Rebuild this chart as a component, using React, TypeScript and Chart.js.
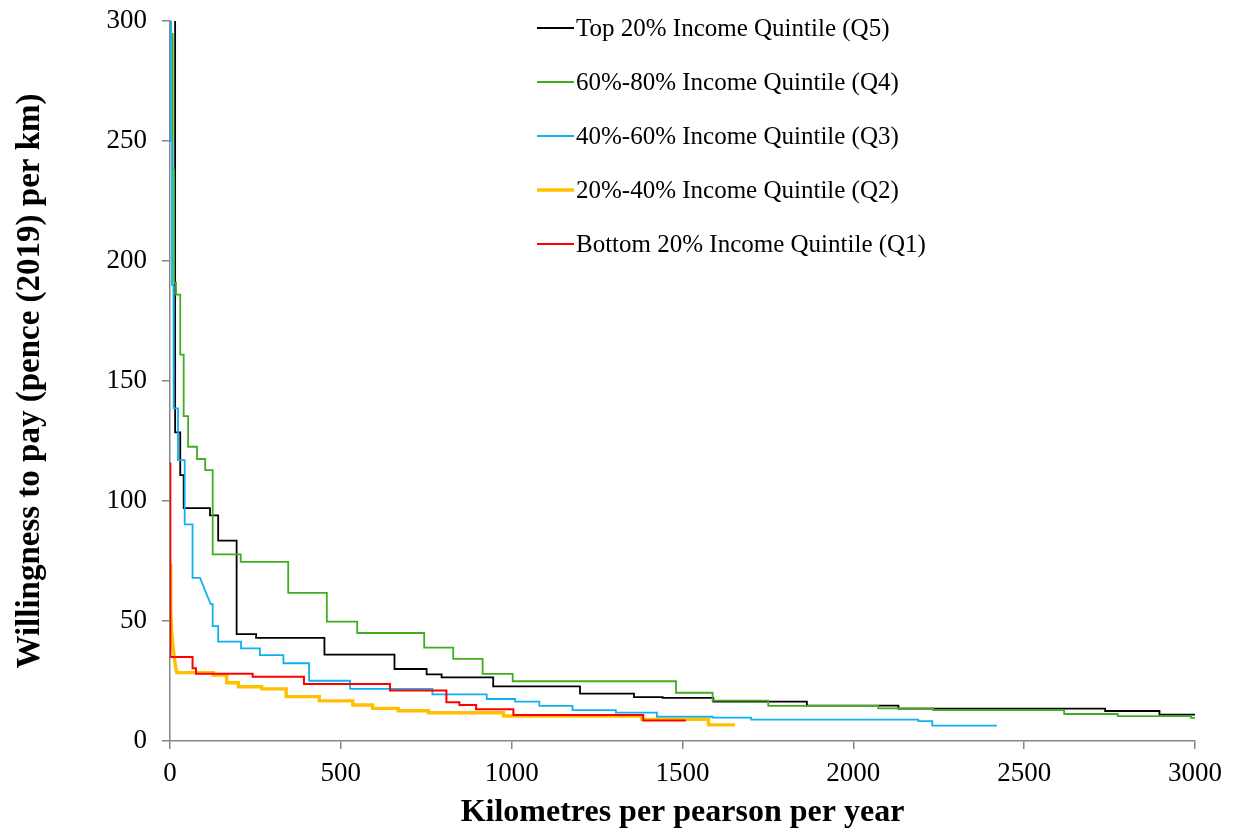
import React, { useEffect, useRef } from "react";
import { Chart, registerables } from "chart.js";

Chart.register(...registerables);

// Step-curve data: km per person per year (x) vs willingness to pay (pence 2019 / km) (y)
const q5X = [15, 15, 30, 30, 40, 40, 117, 117, 141, 141, 195, 195, 252, 252, 452, 452, 657, 657, 751, 751, 795, 795, 946, 946, 1200, 1200, 1358, 1358, 1442, 1442, 1590, 1590, 1864, 1864, 2132, 2132, 2737, 2737, 2896, 2896, 3000];
const q5Y = [300, 128.6, 128.6, 110.8, 110.8, 97, 97, 94, 94, 83.5, 83.5, 44.5, 44.5, 43, 43, 36, 36, 30, 30, 27.8, 27.8, 26.5, 26.5, 22.8, 22.8, 19.7, 19.7, 18.3, 18.3, 18, 18, 16.4, 16.4, 14.7, 14.7, 13.5, 13.5, 12.5, 12.5, 11, 11];

const q4X = [8, 8, 12, 12, 17.6, 17.6, 30, 30, 40, 40, 53, 53, 79, 79, 103, 103, 125, 125, 207, 207, 346, 346, 459, 459, 548, 548, 744, 744, 829, 829, 915, 915, 1003, 1003, 1481, 1481, 1588, 1588, 1751, 1751, 2073, 2073, 2234, 2234, 2617, 2617, 2774, 2774, 2988, 2988, 3000];
const q4Y = [295, 238, 238, 191, 191, 186, 186, 161, 161, 135.4, 135.4, 122.6, 122.6, 117.5, 117.5, 112.9, 112.9, 77.8, 77.8, 74.6, 74.6, 61.7, 61.7, 49.7, 49.7, 45, 45, 38.9, 38.9, 34.2, 34.2, 28, 28, 24.9, 24.9, 20.1, 20.1, 16.8, 16.8, 14.6, 14.6, 13.6, 13.6, 12.9, 12.9, 11.25, 11.25, 10.4, 10.4, 9.6, 9.6];

const q3X = [3, 3, 6, 6, 10, 10, 11, 11, 23.4, 23.4, 43, 43, 66, 66, 88, 119, 125, 125, 141, 141, 208, 208, 263, 263, 332, 332, 407, 407, 527, 527, 768, 768, 927, 927, 1010, 1010, 1081, 1081, 1178, 1178, 1305, 1305, 1425, 1425, 1588, 1588, 1701, 1701, 2190, 2190, 2231, 2231, 2420];
const q3Y = [300, 250, 250, 190, 190, 150, 150, 138.6, 138.6, 117, 117, 90.3, 90.3, 68, 68, 57, 57, 47.9, 47.9, 41.4, 41.4, 38.6, 38.6, 35.8, 35.8, 32.4, 32.4, 25.1, 25.1, 21.7, 21.7, 19.4, 19.4, 17.5, 17.5, 16.4, 16.4, 14.6, 14.6, 12.9, 12.9, 11.8, 11.8, 10.1, 10.1, 9.7, 9.7, 8.9, 8.9, 8.3, 8.3, 6.4, 6.4];

const q2X = [0.5, 2, 5, 10, 15, 20, 127, 127, 166, 166, 200, 200, 268, 268, 340, 340, 437, 437, 535, 535, 593, 593, 668, 668, 756, 756, 976, 976, 1381, 1381, 1576, 1576, 1654];
const q2Y = [74, 55, 45, 38, 32, 28.5, 28.5, 27.5, 27.5, 24.3, 24.3, 22.6, 22.6, 21.7, 21.7, 18.5, 18.5, 16.7, 16.7, 15, 15, 13.6, 13.6, 12.6, 12.6, 11.8, 11.8, 10.4, 10.4, 9, 9, 6.7, 6.7];

const q1X = [1, 1, 66, 66, 76, 76, 242, 242, 392, 392, 644, 644, 809, 809, 847, 847, 896, 896, 1005, 1005, 1385, 1385, 1510];
const q1Y = [116, 35, 35, 30.3, 30.3, 28, 28, 26.8, 26.8, 23.75, 23.75, 21, 21, 16.1, 16.1, 15, 15, 13.2, 13.2, 10.8, 10.8, 8.5, 8.5];

const seriesLabels = [
  "Top 20% Income Quintile (Q5)",
  "60%-80% Income Quintile (Q4)",
  "40%-60% Income Quintile (Q3)",
  "20%-40% Income Quintile (Q2)",
  "Bottom 20% Income Quintile (Q1)",
];
const seriesColors = ["#000000", "#3fae1f", "#0fb2ef", "#ffc000", "#ff0000"];
const seriesWidths = [1.8, 1.8, 1.8, 3.4, 2];

const xTicks = [0, 500, 1000, 1500, 2000, 2500, 3000];
const yTicks = [0, 50, 100, 150, 200, 250, 300];

const xTitle = "Kilometres per pearson per year";
const yTitle = "Willingness to pay (pence (2019) per km)";

const FONT = "'Liberation Serif', 'Times New Roman', serif";
const AXIS_COLOR = "#868686";

function pts(xs: number[], ys: number[]) {
  return xs.map((x, i) => ({ x, y: ys[i] }));
}

const legendPlugin = {
  id: "customLegend",
  afterDraw(chart: any) {
    const ctx = chart.ctx;
    ctx.save();
    ctx.font = `25px ${FONT}`;
    ctx.textBaseline = "middle";
    ctx.textAlign = "left";
    seriesLabels.forEach((label, i) => {
      const y = 28 + 54 * i;
      ctx.strokeStyle = seriesColors[i];
      ctx.lineWidth = seriesWidths[i];
      ctx.beginPath();
      ctx.moveTo(537, y);
      ctx.lineTo(574, y);
      ctx.stroke();
      ctx.fillStyle = "#000";
      ctx.fillText(label, 576, y + 1);
    });
    ctx.restore();
  },
};

export default function App() {
  const ref = useRef<HTMLCanvasElement>(null);
  useEffect(() => {
    if (!ref.current) return;
    const allX = [q5X, q4X, q3X, q2X, q1X];
    const allY = [q5Y, q4Y, q3Y, q2Y, q1Y];
    // dataset index 0 is drawn on top in Chart.js; Q1 on top like the original
    const order = [4, 3, 2, 1, 0];
    const datasets = order.map((i) => ({
      label: seriesLabels[i],
      data: pts(allX[i], allY[i]),
      borderColor: seriesColors[i],
      backgroundColor: seriesColors[i],
      borderWidth: seriesWidths[i],
      pointRadius: 0,
      tension: 0,
      fill: false,
    }));
    const chart = new Chart(ref.current, {
      type: "line",
      data: { datasets },
      plugins: [legendPlugin],
      options: {
        animation: false,
        responsive: false,
        maintainAspectRatio: false,
        parsing: false as any,
        layout: { padding: { top: 21, right: 39, bottom: 0, left: 0 } },
        plugins: { legend: { display: false }, tooltip: { enabled: false } },
        scales: {
          x: {
            type: "linear",
            min: 0,
            max: 3000,
            afterFit: (s: any) => {
              s.height = 93;
              s.paddingLeft = 0;
              s.paddingRight = 0;
            },
            afterBuildTicks: (s: any) => {
              s.ticks = xTicks.map((v) => ({ value: v }));
            },
            grid: { drawOnChartArea: false, drawTicks: true, tickLength: 8, color: AXIS_COLOR, lineWidth: 1.5 },
            border: { color: AXIS_COLOR, width: 1.5 },
            ticks: {
              color: "#000",
              font: { family: FONT, size: 27 },
              padding: 9,
              maxRotation: 0,
              callback: (v: any) => String(v),
            },
            title: {
              display: true,
              text: xTitle,
              color: "#000",
              font: { family: FONT, size: 32, weight: "bold" },
              padding: { top: 0, bottom: 2 },
            },
          },
          y: {
            type: "linear",
            min: 0,
            max: 300,
            afterFit: (s: any) => {
              s.width = 170;
              s.paddingTop = 0;
              s.paddingBottom = 0;
            },
            afterBuildTicks: (s: any) => {
              s.ticks = yTicks.map((v) => ({ value: v }));
            },
            grid: { drawOnChartArea: false, drawTicks: true, tickLength: 8, color: AXIS_COLOR, lineWidth: 1.5 },
            border: { color: AXIS_COLOR, width: 1.5 },
            ticks: {
              color: "#000",
              font: { family: FONT, size: 27 },
              padding: 15,
              callback: (v: any) => String(v),
            },
            title: {
              display: true,
              text: yTitle,
              color: "#000",
              font: { family: FONT, size: 33, weight: "bold" },
              padding: { top: 11, bottom: 0 },
            },
          },
        },
      },
    });
    return () => chart.destroy();
  }, []);
  return (
    <div style={{ position: "fixed", left: 0, top: 0, width: 1234, height: 834, background: "#fff" }}>
      <canvas ref={ref} width={1234} height={834} style={{ width: 1234, height: 834, display: "block" }} />
    </div>
  );
}
